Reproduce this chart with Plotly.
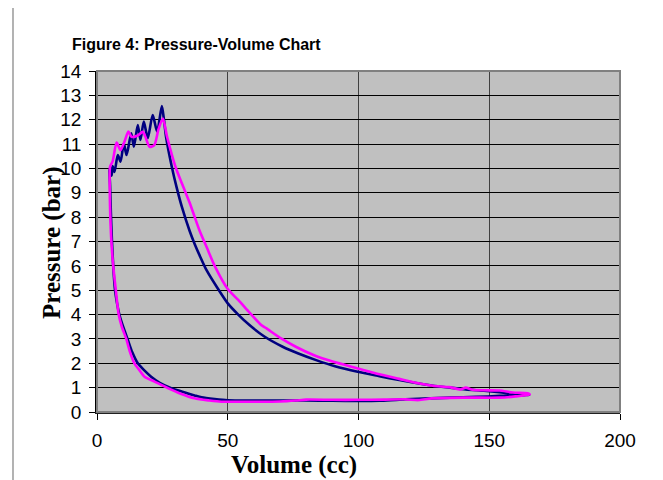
import plotly.graph_objects as go

# Navy series (V in cc, P in bar)
blue_v = [165.3, 160, 154, 145, 135, 125, 115.6, 108, 100, 90, 80, 70, 60, 50, 45, 40, 37.3, 33, 28.4, 24, 20.7, 18, 15.6, 13.5, 11.8, 10, 8.6, 7.6, 6.9, 6.2, 5.7, 5.3, 5.0, 4.8,
          5.2, 5.6, 6.0, 6.7, 7.95, 9.0, 10.25, 11.3, 13.1, 14.1, 15.6, 16.6, 17.9, 19.4, 21.3, 23.0, 24.8,
          25.6, 26.4, 28.6, 30.5, 32.4, 35.4, 37.3, 39.2, 42, 46, 50, 54, 58.3, 64, 71, 77, 83.8, 91, 99.7, 108, 115.6, 122, 128.4, 135, 141, 148, 153.9, 160.2, 165.3]
blue_p = [0.70, 0.68, 0.66, 0.62, 0.59, 0.55, 0.51, 0.46, 0.45, 0.46, 0.47, 0.47, 0.47, 0.48, 0.53, 0.60, 0.68, 0.82, 0.98, 1.2, 1.45, 1.72, 2.0, 2.45, 2.96, 3.5, 3.98, 4.5, 5.0, 6.0, 7.06, 8.2, 9.3, 9.93,
          10.05, 9.7, 10.1, 9.86, 10.55, 10.28, 11.03, 10.55, 11.44, 10.89, 11.78, 11.17, 11.92, 11.24, 12.19, 11.51, 12.56,
          12.0, 11.3, 10.07, 9.2, 8.44, 7.44, 6.91, 6.44, 5.8, 5.1, 4.46, 4.0, 3.57, 3.1, 2.68, 2.4, 2.13, 1.88, 1.65, 1.47, 1.31, 1.19, 1.08, 1.0, 0.93, 0.87, 0.81, 0.74, 0.70]

# Magenta series
mag_v = [165.5, 160, 154, 141, 128, 123, 118, 110, 100, 90, 80, 76, 70, 60, 50, 47.5, 43, 37.3, 32, 27.1, 22, 18.2, 16, 14.3, 12.5, 11.2, 9.5, 8.3, 7.2, 6.2, 5.5, 5.1, 4.9,
         5.0, 6.0, 7.5, 9.0, 10.5, 12.0, 13.2, 15.6, 17.5, 18.5, 20.1, 21.9, 23.5, 25.2,
         26.8, 30.0, 32.6, 35.4, 39.2, 42, 45, 50, 54, 58, 62.8, 64.7, 70.4, 76, 83, 90.1, 99.7, 108, 115.6, 122, 128.4, 134.6, 139, 141, 143.6, 148, 153.9, 159, 164.7, 165.5]
mag_p = [0.72, 0.64, 0.59, 0.59, 0.56, 0.49, 0.52, 0.51, 0.50, 0.50, 0.51, 0.47, 0.43, 0.42, 0.42, 0.42, 0.47, 0.56, 0.75, 0.98, 1.25, 1.45, 1.75, 2.0, 2.5, 3.0, 3.5, 4.0, 5.0, 6.0, 7.0, 8.0, 9.0,
         10.07, 10.3, 11.06, 10.75, 11.1, 11.51, 11.3, 11.35, 11.5, 11.3, 10.89, 10.96, 11.6, 12.05,
         11.3, 10.07, 9.35, 8.6, 7.45, 6.75, 6.0, 5.05, 4.6, 4.12, 3.57, 3.44, 3.02, 2.68, 2.33, 2.07, 1.79, 1.55, 1.36, 1.2, 1.08, 1.02, 0.93, 1.0, 0.91, 0.89, 0.88, 0.80, 0.77, 0.72]

x_ticks = [0, 50, 100, 150, 200]
y_ticks = list(range(0, 15))

title_text = "Figure 4: Pressure-Volume Chart"
x_title = "Volume (cc)"
y_title = "Pressure (bar)"

# page body has an 8px margin; work in page pixels and shift
OFF = 8
W, H = 663 - OFF, 480 - OFF
L, R, T, B = 97 - OFF, 620 - OFF, 71 - OFF, 412 - OFF
pw, ph = R - L, B - T

def px(x):
    return (x - OFF - L) / pw

def py(y):
    return (B - (y - OFF)) / ph

fig = go.Figure()
fig.add_trace(go.Scatter(x=blue_v, y=blue_p, mode="lines",
                         line=dict(color="#000080", width=2.6, shape="spline", smoothing=0.7),
                         showlegend=False))
fig.add_trace(go.Scatter(x=mag_v, y=mag_p, mode="lines",
                         line=dict(color="#FF00FF", width=2.6, shape="spline", smoothing=0.7),
                         showlegend=False))

tickfont = dict(family="Arial, Liberation Sans", size=19, color="black")
fig.update_xaxes(range=[0, 200], tickvals=x_ticks, showgrid=True, gridcolor="#404040", gridwidth=1,
                 showline=True, linecolor="#202020", linewidth=1.5, ticks="outside", ticklen=6,
                 tickcolor="black", tickfont=tickfont, zeroline=False, fixedrange=True,
                 ticklabelstandoff=4)
fig.update_yaxes(range=[0, 14], tickvals=y_ticks, showgrid=True, gridcolor="black", gridwidth=1,
                 showline=True, linecolor="black", linewidth=1.5, ticks="outside", ticklen=6,
                 tickcolor="black", tickfont=tickfont, zeroline=False, fixedrange=True,
                 ticklabelstandoff=4)

shapes = [
    dict(type="rect", xref="paper", yref="paper", x0=0, x1=1, y0=0, y1=1,
         line=dict(color="#808080", width=2), layer="above"),
    dict(type="rect", xref="paper", yref="paper", x0=px(13), x1=px(660), y0=py(490), y1=py(7),
         line=dict(color="#808080", width=1.2), layer="below"),
]

annotations = [
    dict(text="<b>" + title_text + "</b>", xref="paper", yref="paper", x=px(70), y=py(44),
         xanchor="left", yanchor="middle", showarrow=False,
         font=dict(family="Arial, Liberation Sans", size=16, color="black")),
    dict(text="<b>" + x_title + "</b>", xref="paper", yref="paper", x=px(294), y=py(465),
         xanchor="center", yanchor="middle", showarrow=False,
         font=dict(family="Times New Roman, Liberation Serif", size=25, color="black")),
    dict(text="<b>" + y_title + "</b>", xref="paper", yref="paper", x=px(52), y=py(243),
         xanchor="center", yanchor="middle", showarrow=False, textangle=-90,
         font=dict(family="Times New Roman, Liberation Serif", size=25, color="black")),
]

fig.update_layout(width=W, height=H, margin=dict(l=L, r=W - R, t=T, b=H - B),
                  paper_bgcolor="white", plot_bgcolor="#C0C0C0",
                  shapes=shapes, annotations=annotations, showlegend=False)

fig.write_html("out.html", config={"displayModeBar": False})
